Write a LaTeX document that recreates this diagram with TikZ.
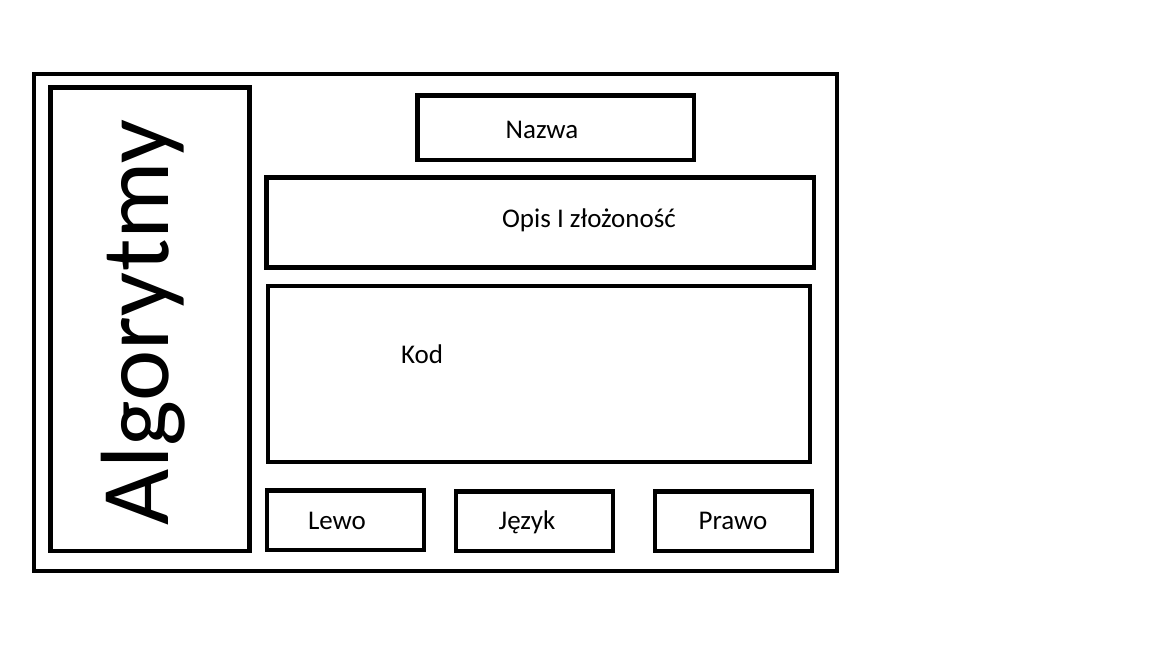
\documentclass[tikz,border=0pt]{standalone}
\usepackage{fontspec}
\setmainfont{Carlito}
\begin{document}
\begin{tikzpicture}[x=1pt,y=-1pt,
  box/.style={draw=black,line width=4.5pt},
  lbl/.style={font=\fontsize{27}{30}\selectfont,inner sep=0pt}]
\useasboundingbox (0,0) rectangle (1152,648);
\draw[box] (34,74) rectangle (837,571);
\draw[box] (50.5,87.5) rectangle (249.5,551);
\node[rotate=90,anchor=base,font=\fontsize{97}{110}\selectfont,inner sep=0pt] (alg) at (168,322.5) {Algorytmy};
\draw[box] (417.5,95.5) rectangle (694,160);
\node[lbl] (nazwa) at (542,130) {Nazwa};
\draw[box] (266.5,177.5) rectangle (814,267.5);
\node[lbl] (opis) at (589,220) {Opis I złożoność};
\draw[box] (268,286) rectangle (810,462);
\node[lbl] (kod) at (422,354) {Kod};
\draw[box] (267,490.5) rectangle (424,550);
\node[lbl] (lewo) at (337,521) {Lewo};
\draw[box] (456,491.5) rectangle (613,551);
\node[lbl] (jezyk) at (527,522) {Język};
\draw[box] (655,491.5) rectangle (812,551);
\node[lbl] (prawo) at (733,521) {Prawo};
\end{tikzpicture}
\end{document}
